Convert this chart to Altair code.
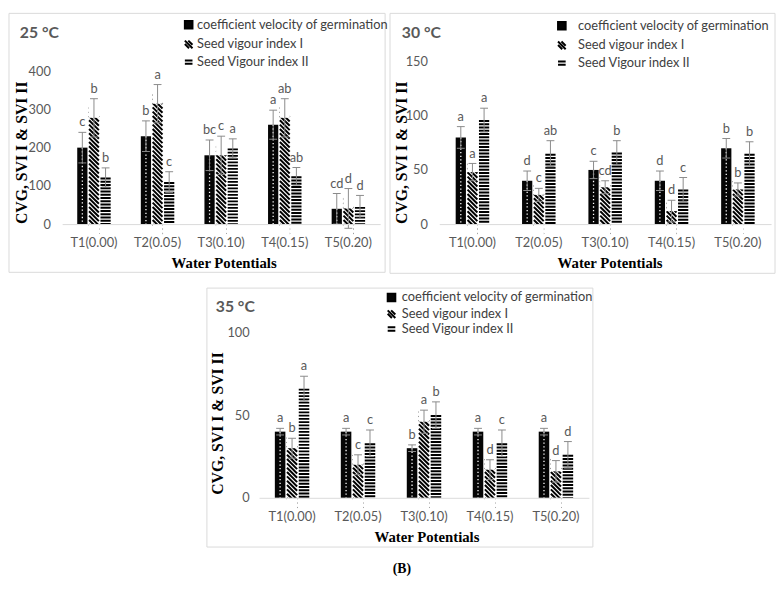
import altair as alt
import pandas as pd

categories = ["T1(0.00)", "T2(0.05)", "T3(0.10)", "T4(0.15)", "T5(0.20)"]
series_names = ["coefficient velocity of germination", "Seed vigour index I", "Seed Vigour index II"]

# 25 °C
cvg_25 = [200, 230, 180, 260, 40]
cvg_25_err = [40, 40, 40, 38, 40]
svi1_25 = [278, 315, 180, 278, 41]
svi1_25_err = [50, 50, 50, 50, 52]
svi2_25 = [122, 110, 198, 125, 45]
svi2_25_err = [25, 27, 25, 23, 30]
cvg_25_sig = ["c", "b", "bc", "a", "cd"]
svi1_25_sig = ["b", "a", "c", "ab", "d"]
svi2_25_sig = ["b", "c", "a", "ab", "d"]

# 30 °C
cvg_30 = [80, 40, 50, 40, 70]
cvg_30_err = [10, 9, 8, 9, 9]
svi1_30 = [48, 27, 34, 12, 32]
svi1_30_err = [8, 6, 6, 10, 6]
svi2_30 = [96, 65, 66, 32, 65]
svi2_30_err = [11, 12, 11, 11, 11]
cvg_30_sig = ["a", "d", "c", "d", "b"]
svi1_30_sig = ["a", "c", "cd", "d", "b"]
svi2_30_sig = ["a", "ab", "b", "c", "b"]

# 35 °C
cvg_35 = [40, 40, 30, 40, 40]
cvg_35_err = [2, 2, 2, 2, 2]
svi1_35 = [30, 20, 46, 17, 16]
svi1_35_err = [6, 6, 7, 6, 6.5]
svi2_35 = [66, 33, 50, 33, 26]
svi2_35_err = [7.5, 8, 8, 8, 8]
cvg_35_sig = ["a", "a", "b", "a", "a"]
svi1_35_sig = ["b", "c", "a", "d", "d"]
svi2_35_sig = ["a", "c", "b", "c", "d"]

SANS = "Lato"
SERIF = "Liberation Serif"
GRAY = "#595959"
EBC = "#8a8a8a"
OPI = 0.12
legend_paths = [
    "M-1,-1L1,-1L1,1L-1,1Z",
    "M-1,-1L1,1M-0.1,-1L1,0.1M-1,-0.1L0.1,1",
    "M-1,-0.45L1,-0.45M-1,0.45L1,0.45",
]


def panel(title, vals, errs, sigs, ymax, ytop, ystep, W, H, pi, g, extra=None):
    rows = []
    for si, s in enumerate(series_names):
        for ci, c in enumerate(categories):
            rows.append(dict(cat=c, series=s, val=vals[si][ci], err=errs[si][ci], sig=sigs[si][ci]))
    df = pd.DataFrame(rows)
    base = alt.Chart(df)

    step = W / 5.0
    grp = step * (1 - pi)
    bw = grp / (3 - OPI) * (1 - OPI)
    u = ytop / H

    xaxis = alt.Axis(title="Water Potentials", titleFont=SERIF, titleFontWeight="bold",
                     titleFontSize=15, titleColor="black", titleX=g["xtx"], titleY=g["xty"],
                     titleBaseline="middle", titleAlign="center",
                     labelFont=SANS, labelFontSize=13, labelColor=GRAY, labelAngle=0,
                     labelPadding=g["xlp"], ticks=False, tickSize=0,
                     domainColor="#d9d9d9", domainWidth=1, zindex=1)
    yaxis = alt.Axis(title="CVG, SVI I & SVI II", titleFont=SERIF, titleFontWeight="bold",
                     titleFontSize=16, titleColor="black", titleX=g["ytx"], titleY=g["yty"],
                     titleBaseline="middle", titleAlign="center",
                     values=list(range(0, ymax + 1, ystep)), labelFont=SANS, labelFontSize=13,
                     labelColor=GRAY, labelPadding=g["ylp"], ticks=False, tickSize=0,
                     domain=False, grid=False)
    xs = alt.Scale(domain=categories, paddingInner=pi, paddingOuter=pi / 2)
    ys = alt.Scale(domain=[0, ytop], nice=False, zero=True)
    X = alt.X("cat:N", scale=xs, axis=xaxis)
    XO = alt.XOffset("series:N", scale=alt.Scale(domain=series_names, paddingInner=OPI, paddingOuter=0))

    def Y(f):
        return alt.Y(f, type="quantitative", scale=ys, axis=yaxis)

    legend = alt.Legend(orient="none", legendX=g["lx"], legendY=g["ly"], title=None,
                        labelFont=SANS, labelFontSize=13, labelColor="#404040", labelLimit=0,
                        symbolSize=60, symbolStrokeWidth=2, symbolOpacity=1,
                        rowPadding=g["rp"], labelOffset=g["lo"], padding=0)

    one = pd.DataFrame({"t": [title]})
    border = alt.Chart(one).mark_rect(filled=False, stroke="#d9d9d9", strokeWidth=1).encode(
        x=alt.value(g["bl"]), x2=alt.value(g["br"]), y=alt.value(g["bt"]), y2=alt.value(g["bb"]))
    ttl = alt.Chart(one).mark_text(align="left", baseline="alphabetic", font=SANS, fontWeight="bold",
                                   fontSize=16, color=GRAY).encode(
        x=alt.value(g["tx"]), y=alt.value(g["ty"]), text="t:N")

    carrier = base.mark_point(opacity=0, fill="black", stroke="black", strokeWidth=2, size=60).encode(
        x=X, xOffset=XO, y=Y("val"),
        shape=alt.Shape("series:N", scale=alt.Scale(domain=series_names, range=legend_paths), legend=legend))

    bars = base.mark_bar().encode(
        x=X, xOffset=XO, y=Y("val"),
        color=alt.Color("series:N", scale=alt.Scale(domain=series_names,
                                                    range=["#050505", "#ffffff", "#ffffff"]), legend=None))

    dots = base.transform_filter(alt.datum.series == series_names[0]).transform_calculate(z="0").mark_rule(
        color="white", strokeWidth=1.3, strokeDash=[1.3, 2.4]).encode(
        x=X, xOffset=XO, y=Y("val"), y2=alt.Y2("z:Q"))

    hstripes = base.transform_filter(alt.datum.series == series_names[2]).transform_calculate(z="0").mark_rule(
        color="black", strokeWidth=bw, strokeDash=[2, 1.3]).encode(
        x=X, xOffset=XO, y=Y("val"), y2=alt.Y2("z:Q"))

    h = (bw / 2) * u
    st = 4.4 * u
    dstripes = base.transform_filter(alt.datum.series == series_names[1]).transform_calculate(
        yy=f"sequence({-h:.5f}, datum.val + {h + 0.5 * st:.5f}, {st:.5f})").transform_flatten(["yy"]).mark_point(
        shape="M-0.96,-0.96L0.96,0.96", size=bw * bw, filled=False, stroke="black", strokeWidth=2,
        opacity=1).encode(x=X, xOffset=XO, y=Y("yy"))

    mtop = (bw + 0.5 * 4.4 + 3) * u
    mbot = (bw + 3) * u
    mask_top = base.transform_filter(alt.datum.series == series_names[1]).transform_calculate(
        m1="datum.val", m2=f"datum.val + {mtop:.5f}").mark_bar(color="white").encode(
        x=X, xOffset=XO, y=Y("m1"), y2=alt.Y2("m2:Q"))
    mask_bot = base.transform_filter(alt.datum.series == series_names[1]).transform_calculate(
        m1="0", m2=f"{-mbot:.5f}").mark_bar(color="white").encode(
        x=X, xOffset=XO, y=Y("m1"), y2=alt.Y2("m2:Q"))

    eb = base.transform_calculate(lo="datum.val - datum.err", hi="datum.val + datum.err")
    erule = eb.mark_rule(color=EBC, strokeWidth=1).encode(x=X, xOffset=XO, y=Y("lo"), y2=alt.Y2("hi:Q"))
    cap_hi = eb.mark_tick(color=EBC, thickness=1, size=8, opacity=1).encode(x=X, xOffset=XO, y=Y("hi"))
    cap_lo = eb.mark_tick(color=EBC, thickness=1, size=8, opacity=1).encode(x=X, xOffset=XO, y=Y("lo"))
    labels = eb.mark_text(baseline="bottom", dy=-3, font=SANS, fontSize=13, color=GRAY).encode(
        x=X, xOffset=XO, y=Y("hi"), text="sig:N")

    layers = [border, ttl, carrier, bars, dots, hstripes, dstripes, mask_top, mask_bot,
              erule, cap_hi, cap_lo, labels]
    if extra:
        layers += extra
    return alt.layer(*layers).properties(width=W, height=H)


# geometry relative to each plot area's top-left corner (pixels)
g25 = dict(bl=-54, br=328, bt=-49, bb=214, tx=-43, ty=-24, lx=122, ly=-44, rp=3, lo=2,
           xtx=164, xty=39, xlp=13, ytx=-41, yty=92, ylp=12)
g30 = dict(bl=-50, br=341, bt=-49, bb=215, tx=-38, ty=-24, lx=118, ly=-43, rp=3, lo=10,
           xtx=173, xty=39, xlp=13, ytx=-38, yty=92, ylp=12)
g35 = dict(bl=-53, br=339, bt=-45, bb=218, tx=-44, ty=-21, lx=128, ly=-42, rp=0, lo=4,
           xtx=170, xty=39, xlp=13, ytx=-42, yty=92, ylp=10)

p25 = panel("25 °C", [cvg_25, svi1_25, svi2_25], [cvg_25_err, svi1_25_err, svi2_25_err],
            [cvg_25_sig, svi1_25_sig, svi2_25_sig], 400, 425, 100, 323, 165, 0.474, g25)
p30 = panel("30 °C", [cvg_30, svi1_30, svi2_30], [cvg_30_err, svi1_30_err, svi2_30_err],
            [cvg_30_sig, svi1_30_sig, svi2_30_sig], 150, 150, 50, 337, 165, 0.495, g30)

bl = pd.DataFrame({"t": ["(B)"]})
b_text = alt.Chart(bl).mark_text(align="center", baseline="middle", font=SERIF, fontWeight="bold",
                                 fontSize=14, color="black").encode(
    x=alt.value(145), y=alt.value(240), text="t:N")

p35 = panel("35 °C", [cvg_35, svi1_35, svi2_35], [cvg_35_err, svi1_35_err, svi2_35_err],
            [cvg_35_sig, svi1_35_sig, svi2_35_sig], 100, 100, 50, 335, 168, 0.478, g35,
            extra=[b_text])

spacer = alt.Chart(bl).mark_text(text="", size=1).encode(
    x=alt.value(0), y=alt.value(0)).properties(width=146, height=1)

res = dict(color="independent", shape="independent", xOffset="independent",
           x="independent", y="independent")
top = alt.hconcat(p25, p30, spacing=0).resolve_scale(**res)
bottom = alt.hconcat(spacer, p35, spacing=0).resolve_scale(**res)
chart = alt.vconcat(top, bottom, spacing=13).resolve_scale(**res)
chart = chart.configure_view(stroke=None).properties(padding=0)

chart.save("out.html", embed_options={"renderer": "svg", "actions": False})
